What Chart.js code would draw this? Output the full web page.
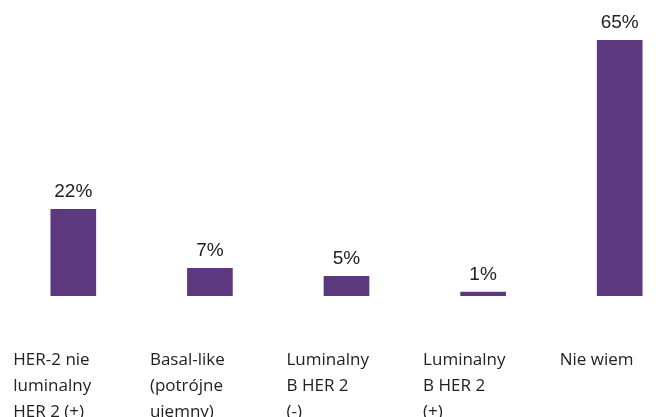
<!DOCTYPE html>
<html>
<head>
<meta charset="utf-8">
<script src="https://cdn.jsdelivr.net/npm/chart.js@4"></script>
<style>
  html, body { margin: 0; padding: 0; background: #fff; overflow: hidden; }
  #wrap { width: 690px; height: 417px; }
</style>
</head>
<body>
<div id="wrap"><canvas id="myChart"></canvas></div>
<script>
// categories (multi-line labels) and values in percent
var categories = [
  ["HER-2 nie", "luminalny", "HER 2 (+)"],
  ["Basal-like", "(potrójne", "ujemny)"],
  ["Luminalny", "B HER 2", "(-)"],
  ["Luminalny", "B HER 2", "(+)"],
  ["Nie wiem"]
];
var values = [22, 7, 5, 1, 65];

var barColor = "rgb(92, 57, 126)";

// draws the "xx%" text above each bar
var valueLabels = {
  id: "valueLabels",
  afterDatasetsDraw: function(chart) {
    var ctx = chart.ctx;
    var meta = chart.getDatasetMeta(0);
    ctx.save();
    ctx.font = "19px 'Liberation Sans', Arial, sans-serif";
    ctx.fillStyle = "#222";
    ctx.textAlign = "center";
    ctx.textBaseline = "alphabetic";
    meta.data.forEach(function(bar, i) {
      ctx.fillText(values[i] + "%", bar.x, bar.y - 12);
    });
    ctx.restore();
  }
};

var ctx = document.getElementById("myChart").getContext("2d");
var myChart = new Chart(ctx, {
  type: "bar",
  data: {
    labels: categories,
    datasets: [
      {
        data: values,
        backgroundColor: barColor,
        barThickness: 45
      }
    ]
  },
  options: {
    responsive: true,
    maintainAspectRatio: false,
    animation: false,
    layout: { padding: { left: 5, right: 2, top: 40, bottom: 0 } },
    plugins: {
      legend: { display: false },
      tooltip: { enabled: false }
    },
    scales: {
      x: {
        grid: { display: false },
        border: { display: false },
        // keep the plot area fixed, labels may run past the category edges
        afterFit: function(scale) {
          scale.paddingLeft = 0;
          scale.paddingRight = 0;
          scale.height = 121;
        },
        ticks: {
          align: "start",
          labelOffset: -60,
          padding: 43,
          color: "#222",
          maxRotation: 0,
          minRotation: 0,
          autoSkip: false,
          font: { family: "'Open Sans', sans-serif", size: 17, lineHeight: 1.53 }
        }
      },
      y: {
        display: false,
        min: 0,
        max: 65
      }
    }
  },
  plugins: [valueLabels]
});
</script>
</body>
</html>
